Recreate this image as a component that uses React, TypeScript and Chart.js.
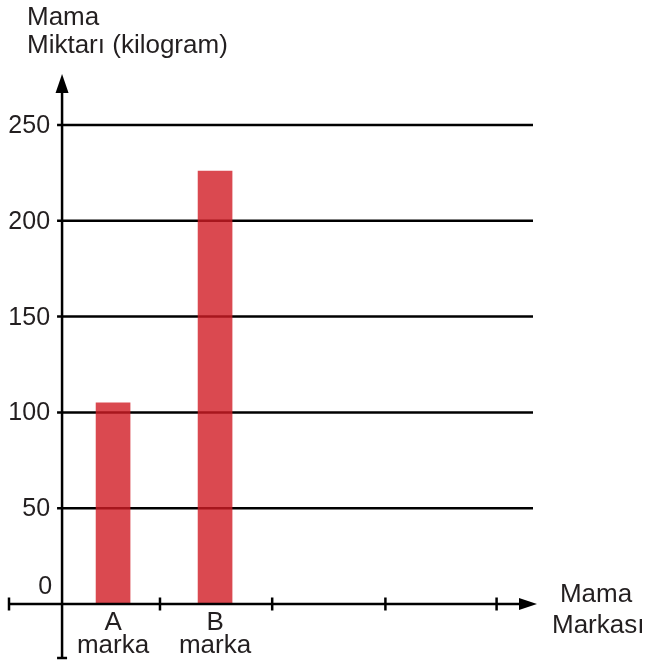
import React, { useEffect, useRef } from "react";
import { Chart, registerables } from "chart.js";

Chart.register(...registerables);

const categories = ["A", "B"];
const categorySub = ["marka", "marka"];
const categoryX = [0.5, 1.5];
const values = [105, 226];
const yTicks = [0, 50, 100, 150, 200, 250];
const xAxisTicks = [0.96, 2.06, 3.17, 4.26];
const yTitle = ["Mama", "Miktarı (kilogram)"];
const xTitle = ["Mama", "Markası"];

const FONT = '26px "Liberation Sans", Arial, sans-serif';
const TICK_FONT = '25px "Liberation Sans", Arial, sans-serif';
const INK = "#231f20";

const axesPlugin = {
  id: "customAxes",
  beforeDatasetsDraw(chart: any) {
    const { ctx, chartArea, scales } = chart;
    const xs = scales.x;
    const ys = scales.y;
    const x0 = xs.getPixelForValue(0);
    ctx.save();
    ctx.strokeStyle = "#000";
    ctx.lineWidth = 2.5;
    for (const t of yTicks) {
      if (t === 0) continue;
      const y = ys.getPixelForValue(t);
      ctx.beginPath();
      ctx.moveTo(x0 - 5, y);
      ctx.lineTo(chartArea.right, y);
      ctx.stroke();
    }
    ctx.restore();
  },
  afterDatasetsDraw(chart: any) {
    const { ctx, chartArea, scales } = chart;
    const xs = scales.x;
    const ys = scales.y;
    const x0 = xs.getPixelForValue(0);
    const y0 = ys.getPixelForValue(0);
    const yTop = ys.getPixelForValue(250);
    ctx.save();
    ctx.strokeStyle = "#000";
    ctx.fillStyle = "#000";
    ctx.lineWidth = 2.5;
    // y axis
    const arrowTipY = yTop - 51;
    const arrowBaseY = yTop - 32;
    const yBottom = y0 + 54;
    ctx.beginPath();
    ctx.moveTo(x0, arrowBaseY);
    ctx.lineTo(x0, yBottom);
    ctx.stroke();
    ctx.beginPath();
    ctx.moveTo(x0 - 5, yBottom);
    ctx.lineTo(x0 + 5, yBottom);
    ctx.stroke();
    ctx.beginPath();
    ctx.moveTo(x0, arrowTipY);
    ctx.lineTo(x0 - 6.5, arrowBaseY);
    ctx.lineTo(x0 + 6.5, arrowBaseY);
    ctx.closePath();
    ctx.fill();
    // x axis
    const xl = chartArea.left + 1;
    const arrowBaseX = chartArea.right - 14;
    const arrowTipX = chartArea.right + 4;
    ctx.beginPath();
    ctx.moveTo(xl, y0);
    ctx.lineTo(arrowBaseX, y0);
    ctx.stroke();
    ctx.beginPath();
    ctx.moveTo(arrowTipX, y0);
    ctx.lineTo(arrowBaseX, y0 - 6);
    ctx.lineTo(arrowBaseX, y0 + 6);
    ctx.closePath();
    ctx.fill();
    const tickXs = [xl, ...xAxisTicks.map((v) => xs.getPixelForValue(v))];
    for (const tx of tickXs) {
      ctx.beginPath();
      ctx.moveTo(tx, y0 - 6.5);
      ctx.lineTo(tx, y0 + 6.5);
      ctx.stroke();
    }
    // texts
    ctx.fillStyle = INK;
    ctx.font = TICK_FONT;
    ctx.textBaseline = "alphabetic";
    ctx.textAlign = "right";
    for (const t of yTicks) {
      const y = ys.getPixelForValue(t);
      if (t === 0) {
        ctx.fillText(String(t), x0 - 10, y - 10);
      } else {
        ctx.fillText(String(t), x0 - 12, y + 8);
      }
    }
    ctx.font = FONT;
    ctx.textAlign = "left";
    ctx.fillText(yTitle[0], 27, 25);
    ctx.fillText(yTitle[1], 27, 53);
    ctx.textAlign = "center";
    categories.forEach((c, i) => {
      const cx = xs.getPixelForValue(categoryX[i]);
      ctx.fillText(c, cx, y0 + 26);
      ctx.fillText(categorySub[i], cx, y0 + 49);
    });
    ctx.fillText(xTitle[0], 596, y0 - 2);
    ctx.textAlign = "left";
    ctx.fillText(xTitle[1], 552, y0 + 29);
    ctx.restore();
  },
};

export default function App() {
  const ref = useRef<HTMLCanvasElement>(null);
  useEffect(() => {
    if (!ref.current) return;
    const chart = new Chart(ref.current, {
      type: "bar",
      data: {
        datasets: [
          {
            data: values.map((v, i) => ({ x: categoryX[i], y: v })),
            backgroundColor: "rgba(209,27,36,0.8)",
            borderWidth: 0,
            barThickness: 34,
          },
        ],
      },
      options: {
        animation: false,
        responsive: false,
        maintainAspectRatio: false,
        devicePixelRatio: 1,
        layout: { padding: { left: 8, right: 113, top: 125, bottom: 58 } },
        plugins: { legend: { display: false }, tooltip: { enabled: false } },
        scales: {
          x: { type: "linear", min: -0.53, max: 4.617, display: false, offset: false },
          y: { type: "linear", min: 0, max: 250, display: false },
        },
      },
      plugins: [axesPlugin],
    });
    return () => chart.destroy();
  }, []);
  return (
    <div style={{ position: "fixed", left: 0, top: 0, width: 646, height: 662, background: "#fff" }}>
      <canvas ref={ref} width={646} height={662} style={{ width: 646, height: 662 }} />
    </div>
  );
}
